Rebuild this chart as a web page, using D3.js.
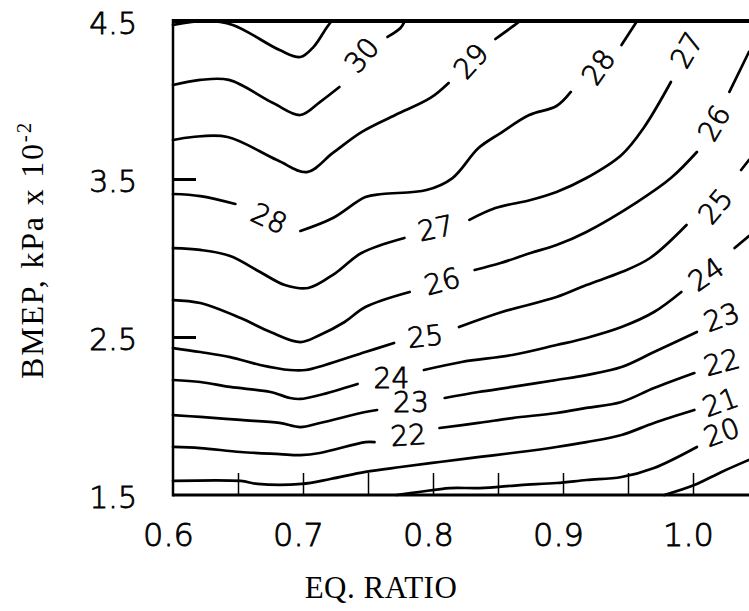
<!DOCTYPE html>
<html>
<head>
<meta charset="utf-8">
<script src="https://cdn.jsdelivr.net/npm/d3@7"></script>
<style>
  html, body { margin: 0; padding: 0; background: #fff; }
  svg { display: block; }
</style>
</head>
<body>
<svg id="chart" width="749" height="611"></svg>
<script>
// Axis ticks
const eqRatioTicks = [0.6, 0.7, 0.8, 0.9, 1.0];
const eqRatioMinor = [0.65, 0.7, 0.75, 0.8, 0.85, 0.9, 0.95, 1.0];
const bmepTicks = [1.5, 2.5, 3.5, 4.5];
const bmepInnerTicks = [2.5, 3.5];

// Iso-efficiency contours: [EQ. ratio, BMEP (kPa x 10^-2)], each broken where labelled
const iso19 = [
  [[0.978, 1.5], [1.001, 1.563], [1.022, 1.646], [1.043, 1.722]]
];
const iso20 = [
  [[0.772, 1.5], [0.789, 1.519], [0.813, 1.544], [0.836, 1.544], [0.867, 1.563], [0.895, 1.576],
   [0.918, 1.595], [0.945, 1.614], [0.970, 1.671], [1.003, 1.804]]
];
const iso21 = [
  [[0.6, 1.589], [0.652, 1.589], [0.665, 1.570], [0.699, 1.570], [0.721, 1.601], [0.748, 1.646],
   [0.775, 1.677], [0.805, 1.709], [0.836, 1.741], [0.867, 1.772], [0.895, 1.804], [0.918, 1.835],
   [0.945, 1.880], [0.970, 1.956], [1.001, 2.038]]
];
const iso22 = [
  [[0.6, 1.804], [0.621, 1.797], [0.652, 1.772], [0.682, 1.759], [0.698, 1.753], [0.713, 1.766],
   [0.748, 1.835], [0.755, 1.835]],
  [[0.805, 1.924], [0.835, 1.956], [0.861, 1.987], [0.895, 2.019], [0.918, 2.051], [0.945, 2.089],
   [0.970, 2.177], [1.001, 2.272]]
];
const iso23 = [
  [[0.6, 2.006], [0.621, 1.994], [0.652, 1.975], [0.682, 1.956], [0.698, 1.930], [0.713, 1.956],
   [0.748, 2.025], [0.757, 2.038]],
  [[0.809, 2.114], [0.835, 2.152], [0.861, 2.184], [0.895, 2.228], [0.918, 2.259], [0.945, 2.310],
   [0.970, 2.405], [1.003, 2.532]]
];
const iso24 = [
  [[0.6, 2.228], [0.621, 2.215], [0.644, 2.184], [0.675, 2.152], [0.690, 2.114], [0.698, 2.108],
   [0.713, 2.133], [0.742, 2.203]],
  [[0.793, 2.291], [0.822, 2.342], [0.861, 2.386], [0.895, 2.449], [0.918, 2.494], [0.945, 2.563],
   [0.970, 2.658], [0.991, 2.785]],
  [[1.032, 3.063], [1.043, 3.139]]
];
const iso25 = [
  [[0.6, 2.430], [0.621, 2.405], [0.644, 2.373], [0.667, 2.323], [0.690, 2.291], [0.702, 2.291],
   [0.717, 2.323], [0.748, 2.405], [0.770, 2.462]],
  [[0.820, 2.563], [0.853, 2.658], [0.895, 2.753], [0.918, 2.829], [0.945, 2.911], [0.967, 3.0],
   [0.995, 3.209]],
  [[1.037, 3.557], [1.043, 3.620]]
];
const iso26 = [
  [[0.6, 2.734], [0.621, 2.715], [0.652, 2.620], [0.675, 2.532], [0.698, 2.468], [0.713, 2.513],
   [0.732, 2.595], [0.748, 2.690], [0.782, 2.785]],
  [[0.832, 2.924], [0.852, 2.968], [0.875, 3.032], [0.895, 3.082], [0.918, 3.165], [0.957, 3.354],
   [0.983, 3.506], [1.003, 3.671]],
  [[1.028, 4.051], [1.043, 4.304]]
];
const iso27 = [
  [[0.6, 3.063], [0.621, 3.051], [0.644, 3.013], [0.667, 2.911], [0.686, 2.829], [0.704, 2.810],
   [0.725, 2.905], [0.745, 3.032], [0.778, 3.127]],
  [[0.828, 3.241], [0.848, 3.316], [0.875, 3.367], [0.895, 3.418], [0.918, 3.506], [0.945, 3.652],
   [0.962, 3.823], [0.983, 4.114]]
];
const iso28 = [
  [[0.6, 3.405], [0.621, 3.392], [0.648, 3.342]],
  [[0.698, 3.171], [0.723, 3.253], [0.748, 3.386], [0.761, 3.405], [0.795, 3.430], [0.815, 3.506],
   [0.835, 3.696], [0.852, 3.791], [0.874, 3.905], [0.895, 3.962], [0.906, 4.051]],
  [[0.945, 4.348], [0.955, 4.475], [0.957, 4.5]]
];
const iso29 = [
  [[0.6, 3.747], [0.615, 3.766], [0.642, 3.766], [0.680, 3.620], [0.703, 3.544], [0.723, 3.665],
   [0.745, 3.797], [0.771, 3.905], [0.798, 4.013], [0.812, 4.108]],
  [[0.848, 4.386], [0.863, 4.475], [0.867, 4.5]]
];
const iso30 = [
  [[0.6, 4.095], [0.621, 4.127], [0.643, 4.127], [0.677, 3.981], [0.698, 3.905], [0.713, 3.987],
   [0.728, 4.082]],
  [[0.765, 4.399], [0.775, 4.456], [0.778, 4.494]]
];
const iso31 = [
  [[0.6, 4.475], [0.625, 4.5], [0.646, 4.475], [0.682, 4.316], [0.698, 4.272], [0.708, 4.335],
   [0.718, 4.456], [0.722, 4.5]]
];
const isoLines = [iso19, iso20, iso21, iso22, iso23, iso24, iso25, iso26, iso27, iso28, iso29, iso30, iso31];

// Contour labels: value, anchor [EQ. ratio, BMEP], text angle
const labelValues = ["30", "29", "28", "27", "26", "25", "24", "23", "22", "21", "20",
                     "28", "27", "26", "25", "24", "23", "22"];
const labelAnchors = [
  [0.745, 4.285], [0.829, 4.247], [0.927, 4.209], [0.995, 4.316], [1.016, 3.854], [1.017, 3.329],
  [1.010, 2.899], [1.022, 2.627], [1.022, 2.342], [1.021, 2.089], [1.022, 1.899],
  [0.674, 3.253], [0.802, 3.190], [0.807, 2.854], [0.794, 2.506], [0.768, 2.241], [0.783, 2.089],
  [0.781, 1.880]
];
const labelAngles = [-50, -48, -55, -60, -60, -50, -35, -20, -15, -20, -20,
                     25, -12, -15, -6, 0, 0, -4];

const svg = d3.select("#chart");
const W = 749, H = 611;

const x = d3.scaleLinear().domain([0.6, 1.0]).range([173, 693]);
const y = d3.scaleLinear().domain([1.5, 4.5]).range([495, 21]);
const xEdge = 1.06;

const digitFont = "'DejaVu Sans', 'Liberation Sans', sans-serif";
const titleFont = "'Liberation Serif', 'Times New Roman', serif";

// Thin plotter-style digits: light face with a fine outline
function plotterText(sel, size) {
  sel.attr("font-family", digitFont)
    .attr("font-weight", 200)
    .attr("font-size", size)
    .attr("fill", "#000")
    .attr("stroke", "#000")
    .attr("stroke-width", 0.8);
}

svg.append("rect").attr("width", W).attr("height", H).attr("fill", "#fff");

// Contour lines
const line = d3.line()
  .x(d => x(d[0]))
  .y(d => y(d[1]))
  .curve(d3.curveCatmullRom.alpha(0.5));

const gLines = svg.append("g")
  .attr("fill", "none")
  .attr("stroke", "#000")
  .attr("stroke-width", 2.7)
  .attr("stroke-linecap", "round")
  .attr("stroke-linejoin", "round");

isoLines.forEach(segs => {
  gLines.selectAll(null)
    .data(segs)
    .enter()
    .append("path")
    .attr("d", line);
});

// Contour labels
svg.append("g")
  .selectAll("text")
  .data(labelValues)
  .enter()
  .append("text")
  .attr("transform", (d, i) =>
    `translate(${x(labelAnchors[i][0])},${y(labelAnchors[i][1])}) rotate(${labelAngles[i]})`)
  .attr("text-anchor", "middle")
  .attr("dy", "0.36em")
  .call(plotterText, 28)
  .text(d => d);

// Frame
const frame = svg.append("g").attr("stroke", "#000").attr("fill", "none");
frame.append("line")
  .attr("x1", x(0.6)).attr("x2", x(xEdge))
  .attr("y1", y(4.5)).attr("y2", y(4.5))
  .attr("stroke-width", 4);
frame.append("line")
  .attr("x1", x(0.6)).attr("x2", x(xEdge))
  .attr("y1", y(1.5)).attr("y2", y(1.5))
  .attr("stroke-width", 3);
frame.append("line")
  .attr("x1", x(0.6)).attr("x2", x(0.6))
  .attr("y1", y(1.5) + 1.5).attr("y2", y(4.5) - 2)
  .attr("stroke-width", 2.5);

// Inner ticks on the bottom edge
const minorAxis = d3.axisBottom(x)
  .tickValues(eqRatioMinor)
  .tickSizeInner(-22)
  .tickSizeOuter(0)
  .tickFormat("");
const gMinor = svg.append("g")
  .attr("transform", `translate(0,${y(1.5)})`)
  .call(minorAxis);
gMinor.select(".domain").remove();
gMinor.selectAll(".tick line").attr("stroke", "#000").attr("stroke-width", 1.5);

// Inner ticks on the left edge
const leftInner = d3.axisLeft(y)
  .tickValues(bmepInnerTicks)
  .tickSizeInner(-23)
  .tickSizeOuter(0)
  .tickFormat("");
const gLeftInner = svg.append("g")
  .attr("transform", `translate(${x(0.6)},0)`)
  .call(leftInner);
gLeftInner.select(".domain").remove();
gLeftInner.selectAll(".tick line").attr("stroke", "#000").attr("stroke-width", 3);

// X tick labels
const xAxis = d3.axisBottom(x)
  .tickValues(eqRatioTicks)
  .tickSize(0)
  .tickPadding(28)
  .tickFormat(d3.format(".1f"));
const gx = svg.append("g")
  .attr("transform", `translate(-5,${y(1.5)})`)
  .call(xAxis);
gx.select(".domain").remove();
gx.selectAll("text").call(plotterText, 32);

// Y tick labels
const yAxis = d3.axisLeft(y)
  .tickValues(bmepTicks)
  .tickSize(0)
  .tickPadding(36)
  .tickFormat(d3.format(".1f"));
const gy = svg.append("g")
  .attr("transform", `translate(${x(0.6)},3)`)
  .call(yAxis);
gy.select(".domain").remove();
gy.selectAll("text").call(plotterText, 30);

// Axis titles
svg.append("text")
  .attr("x", 381)
  .attr("y", 598)
  .attr("text-anchor", "middle")
  .attr("font-family", titleFont)
  .attr("font-size", 31)
  .attr("letter-spacing", 0.5)
  .attr("fill", "#000")
  .text("EQ. RATIO");

const yTitle = svg.append("text")
  .attr("transform", "translate(43,250) rotate(-90)")
  .attr("text-anchor", "middle")
  .attr("font-family", titleFont)
  .attr("font-size", 32)
  .attr("letter-spacing", 1.8)
  .attr("fill", "#000");
yTitle.append("tspan").text("BMEP, kPa x 10");
yTitle.append("tspan").attr("dy", -12).attr("font-size", 21).text("-2");
</script>
</body>
</html>
